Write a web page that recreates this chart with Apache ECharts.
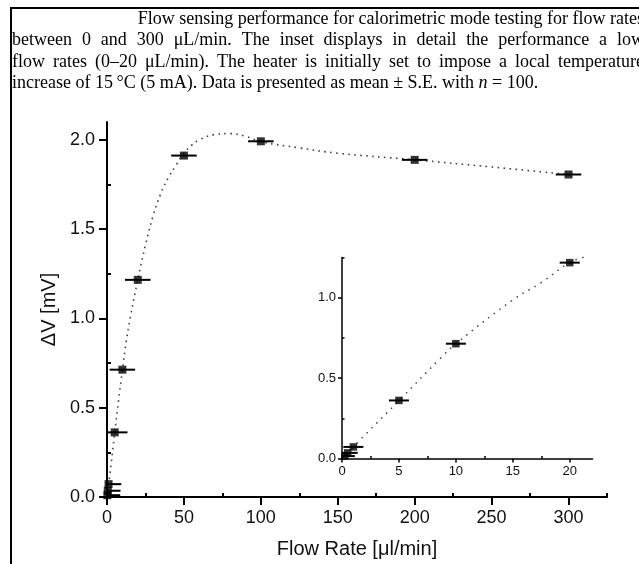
<!DOCTYPE html>
<html><head><meta charset="utf-8">
<script src="https://cdn.jsdelivr.net/npm/echarts@6/dist/echarts.min.js"></script>
<style>html,body{margin:0;padding:0;background:#fff;overflow:hidden}#c{width:639px;height:564px}</style>
</head><body><div id="c"></div><script>
// ---- caption ----
const captionLines = [
  "Flow sensing performance for calorimetric mode testing for flow rates",
  "between 0 and 300 \u03bcL/min. The inset displays in detail the performance a low",
  "flow rates (0\u201320 \u03bcL/min). The heater is initially set to impose a local temperature",
  "increase of 15\u2009\u00b0C (5 mA). Data is presented as mean \u00b1 S.E. with n = 100."
];
const captionItalic = ["n"];

// ---- main plot data ----
const mainFlow = [0.25, 0.5, 1, 5, 10, 20, 50, 100, 200, 300];
const mainDV = [0.01, 0.035, 0.072, 0.362, 0.713, 1.216, 1.912, 1.992, 1.888, 1.806];
const mainFlowErr = [8.3, 8.3, 8.3, 8.3, 8.3, 8.3, 8.3, 8.3, 8.3, 8.3];
const mainFitFlow = [0, 2.5, 5, 7.5, 10, 12.5, 15, 20, 25, 30, 35, 40, 45, 50, 55, 60, 70, 80, 90, 100, 125, 150, 200, 250, 300];
const mainFitDV = [0, 0.17, 0.36, 0.54, 0.71, 0.87, 1.0, 1.215, 1.41, 1.575, 1.70, 1.79, 1.86, 1.925, 1.97, 2.0, 2.03, 2.035, 2.02, 1.99, 1.955, 1.925, 1.888, 1.848, 1.806];

// ---- inset data ----
const insetFlow = [0.25, 0.5, 1, 5, 10, 20];
const insetDV = [0.015, 0.035, 0.072, 0.361, 0.714, 1.218];
const insetFlowErr = [0.88, 0.88, 0.88, 0.88, 0.88, 0.88];
const insetFitFlow = [0, 2, 5, 8.7, 10, 15, 17.5, 20, 21.6];
const insetFitDV = [0, 0.145, 0.36, 0.627, 0.714, 0.986, 1.094, 1.218, 1.26];

// ---- ticks ----
const mainXTicks = [0, 50, 100, 150, 200, 250, 300];
const mainXMinor = [25, 75, 125, 175, 225, 275, 325];
const mainYTicks = [0, 0.5, 1.0, 1.5, 2.0];
const mainYMinor = [0.25, 0.75, 1.25, 1.75];
const insetXTicks = [0, 5, 10, 15, 20];
const insetXMinor = [2.5, 7.5, 12.5, 17.5];
const insetYTicks = [0, 0.5, 1.0];
const insetYMinor = [0.25, 0.75, 1.25];

const zip = (a, b, c) => a.map((v, i) => c ? [v, b[i], c[i]] : [v, b[i]]);

const chart = echarts.init(document.getElementById('c'), null, {renderer: 'canvas'});

// caption layout (justified)
const capFont = 18, capFamily = '"Liberation Serif", "Times New Roman", serif';
const mctx = document.createElement('canvas').getContext('2d');
function measure(w, italic) { mctx.font = (italic ? 'italic ' : '') + capFont + 'px ' + capFamily; return mctx.measureText(w).width; }
const capLeft = [null, 12, 12, 12], capRight = 644, capY = [19, 40.5, 62, 83.5];
const graphics = [];
const spaceW = measure(' ', false);
captionLines.forEach((line, li) => {
  const words = line.split(' ');
  const widths = words.map(w => measure(w, captionItalic.includes(w)));
  const total = widths.reduce((s, v) => s + v, 0);
  let gap, x;
  if (li === 0) { gap = spaceW; x = capRight - total - gap * (words.length - 1); }
  else if (li < captionLines.length - 1) { x = capLeft[li]; gap = (capRight - x - total) / (words.length - 1); }
  else { x = capLeft[li]; gap = spaceW; }
  words.forEach((w, wi) => {
    graphics.push({type: 'text', x: x, y: capY[li], style: {text: w, fill: '#000', font: (captionItalic.includes(w) ? 'italic ' : '') + capFont + 'px ' + capFamily, textVerticalAlign: 'middle'}});
    x += widths[wi] + gap;
  });
});
graphics.push({type: 'line', shape: {x1: 10, y1: 8, x2: 639, y2: 8}, style: {stroke: '#000', lineWidth: 2}});
graphics.push({type: 'line', shape: {x1: 11, y1: 8, x2: 11, y2: 564}, style: {stroke: '#000', lineWidth: 2}});

function errRender(params, api) {
  const x = api.value(0), y = api.value(1), e = api.value(2);
  const p1 = api.coord([x - e, y]), p2 = api.coord([x + e, y]);
  const cs = params.coordSys;
  const x1 = Math.max(p1[0], cs.x), x2 = Math.min(p2[0], cs.x + cs.width);
  return {type: 'line', shape: {x1: x1, y1: p1[1], x2: x2, y2: p2[1]}, style: {stroke: '#000', lineWidth: 2}};
}

const sans = '"Liberation Sans", Arial, sans-serif';
function majorAxis(grid, min, max, ticks, fs, margin, tlen, lw, extra) {
  return Object.assign({
    type: 'value', gridIndex: grid, min: min, max: max,
    axisLine: {show: true, onZero: false, lineStyle: {color: '#000', width: lw}},
    axisTick: {show: true, customValues: ticks, length: tlen, lineStyle: {color: '#000', width: lw}},
    axisLabel: {show: true, customValues: ticks, fontSize: fs, fontFamily: sans, color: '#111', margin: margin},
    splitLine: {show: false}, minorTick: {show: false}
  }, extra || {});
}
function minorAxis(grid, min, max, ticks, tlen, lw) {
  return {type: 'value', gridIndex: grid, min: min, max: max,
    axisLine: {show: false}, axisLabel: {show: false}, splitLine: {show: false},
    axisTick: {show: true, customValues: ticks, length: tlen, lineStyle: {color: '#000', width: lw}}};
}

const xMainMajor = majorAxis(0, 0, 325, mainXTicks, 18, 12, 8, 2, {name: 'Flow Rate [\u03bcl/min]', nameLocation: 'middle', nameGap: 42, nameTextStyle: {fontSize: 20, fontFamily: sans, color: '#111'}});
xMainMajor.axisLabel.formatter = v => String(v);
const yMainMajor = majorAxis(0, 0, 2.1, mainYTicks, 18, 12, 8, 2, {name: '\u0394V [mV]', nameLocation: 'middle', nameGap: 48, nameTextStyle: {fontSize: 20, fontFamily: sans, color: '#111'}});
yMainMajor.axisLabel.formatter = v => v.toFixed(1);
const xInsetMajor = majorAxis(1, 0, 22, insetXTicks, 13, 6, 4, 1.5);
xInsetMajor.axisLabel.formatter = v => String(v);
const yInsetMajor = majorAxis(1, 0, 1.25, insetYTicks, 13, 6, 4, 1.5);
yInsetMajor.axisLabel.formatter = v => v.toFixed(1);

const dotted = (w, c, d) => ({color: c, width: w, type: d});

chart.setOption({
  animation: false,
  backgroundColor: '#fff',
  graphic: graphics,
  grid: [
    {left: 107, top: 122, width: 500, height: 375},
    {left: 342, top: 257.5, width: 250.5, height: 201}
  ],
  xAxis: [xMainMajor, minorAxis(0, 0, 325, mainXMinor, 4, 2), xInsetMajor, minorAxis(1, 0, 22, insetXMinor, 2.5, 1.5)],
  yAxis: [yMainMajor, minorAxis(0, 0, 2.1, mainYMinor, 4, 2), yInsetMajor, minorAxis(1, 0, 1.25, insetYMinor, 2.5, 1.5)],
  series: [
    {type: 'line', xAxisIndex: 0, yAxisIndex: 0, data: zip(mainFitFlow, mainFitDV), smooth: 0.4, showSymbol: false,
      lineStyle: dotted(1.6, '#444', [1.6, 4.4]), silent: true, z: 1},
    {type: 'custom', xAxisIndex: 0, yAxisIndex: 0, data: zip(mainFlow, mainDV, mainFlowErr), renderItem: errRender, z: 2},
    {type: 'scatter', xAxisIndex: 0, yAxisIndex: 0, data: zip(mainFlow, mainDV), symbol: 'rect', symbolSize: 8, itemStyle: {color: '#000'}, z: 3},
    {type: 'line', xAxisIndex: 2, yAxisIndex: 2, data: zip(insetFitFlow, insetFitDV), smooth: 0.4, showSymbol: false,
      lineStyle: dotted(1.5, '#444', [1.5, 5.5]), silent: true, z: 1},
    {type: 'custom', xAxisIndex: 2, yAxisIndex: 2, data: zip(insetFlow, insetDV, insetFlowErr), renderItem: errRender, z: 2},
    {type: 'scatter', xAxisIndex: 2, yAxisIndex: 2, data: zip(insetFlow, insetDV), symbol: 'rect', symbolSize: 7.5, itemStyle: {color: '#000'}, z: 3}
  ]
});
</script></body></html>
